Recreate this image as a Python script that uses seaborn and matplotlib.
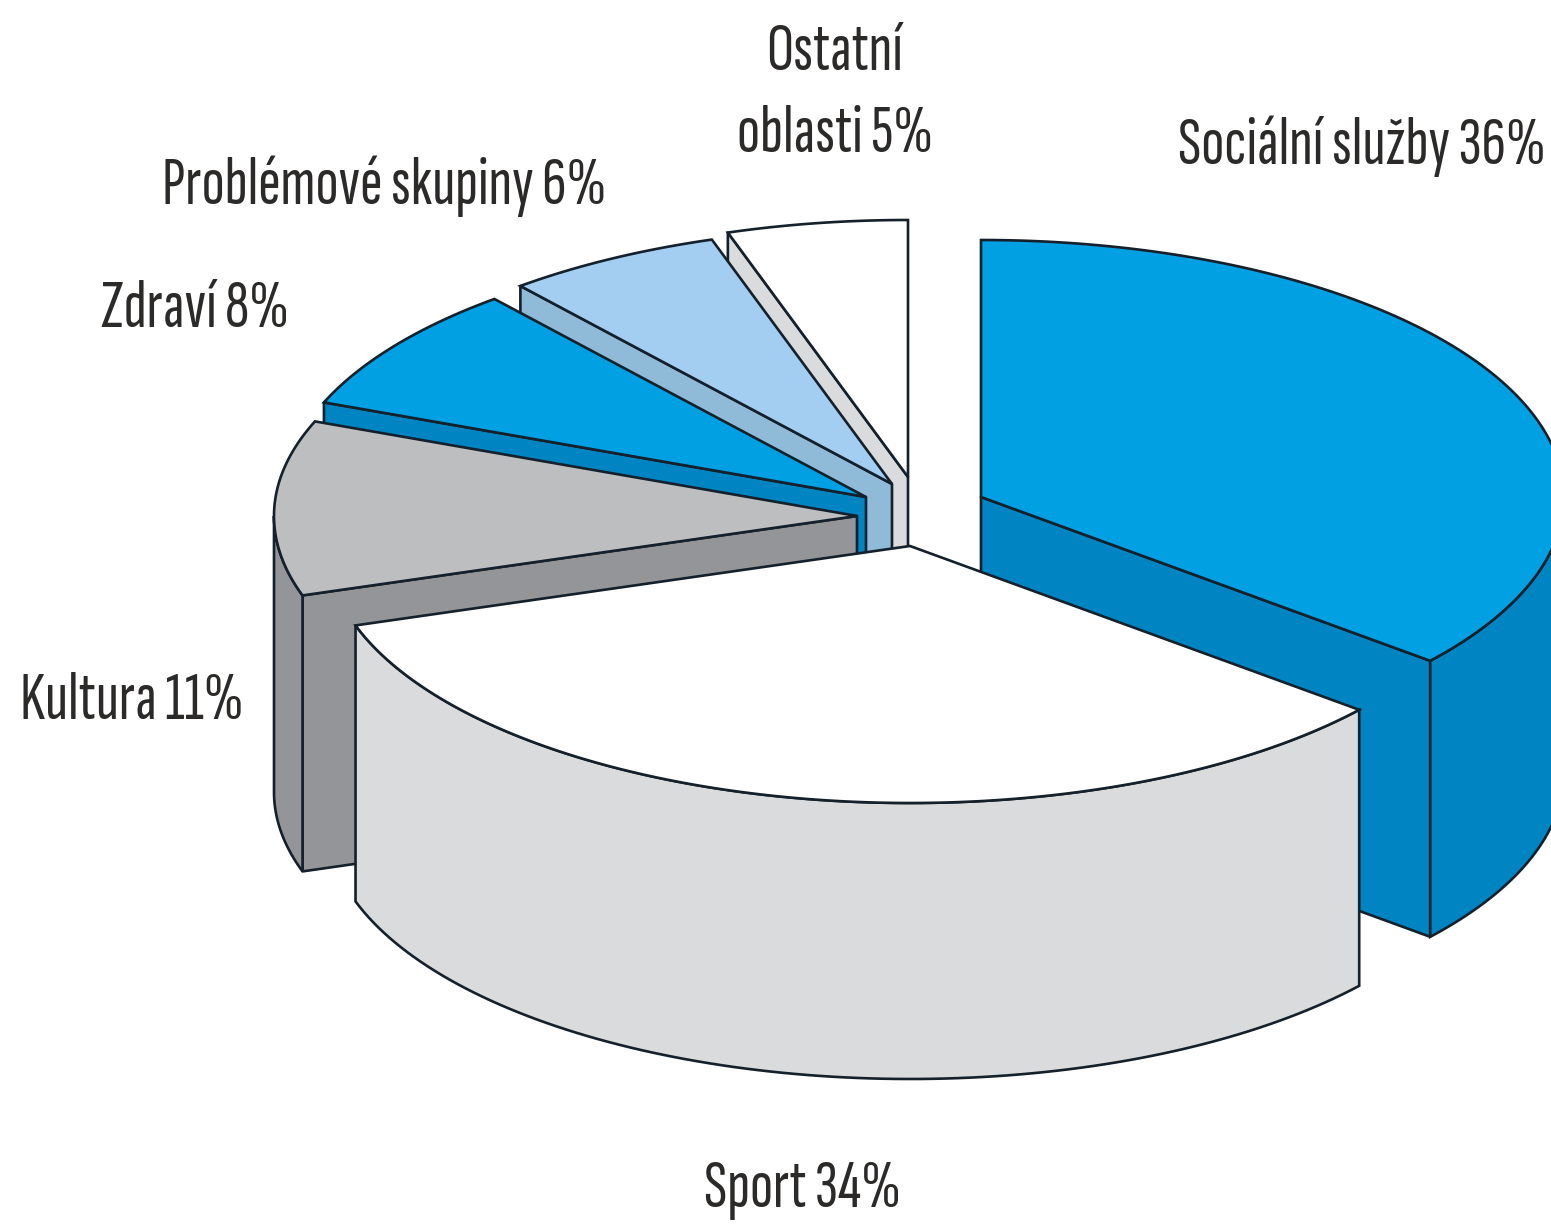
import numpy as np
import seaborn as sns
import matplotlib.pyplot as plt
from matplotlib.patches import Polygon

# shares in %, clockwise from 12 o'clock
labels = ['Sociální služby 36%', 'Sport 34%', 'Kultura 11%', 'Zdraví 8%',
          'Problémové skupiny 6%', 'Ostatní\noblasti 5%']
shares = [36, 34, 11, 8, 6, 5]

top_colors = ['#00a0e3', '#ffffff', '#bcbec0', '#00a0e3', '#a3cef1', '#ffffff']
side_colors = ['#0085c2', '#d9dbdc', '#939598', '#0085c2', '#8fbad8', '#d9dbdc']

# apex of each slice in pixels, the pie is drawn in image coordinates
apex_x = [981, 910, 857, 866, 892, 908]
apex_y = [497, 546, 516, 497, 484, 477]
label_x = [1362, 803, 132, 195, 384, 835]
label_y = [146, 1190, 702, 310, 186, 94]

RX, RY, DEPTH = 583, 257, 276

sns.set_theme(style='white')
plt.rcParams['font.family'] = ['Sofia Sans Extra Condensed', 'Fira Sans Extra Condensed', 'Liberation Sans']

fig = plt.figure(figsize=(15.51, 12.28), dpi=100)
ax = fig.add_axes([0, 0, 1, 1])
ax.set_xlim(0, 1551)
ax.set_ylim(1228, 0)
ax.axis('off')


def rim(t, cx, cy, drop=0):
    return np.column_stack([cx + RX * np.sin(t), cy - RY * np.cos(t) + drop])


def draw_slice(start, end, cx, cy, top, side):
    # radial faces that look towards the viewer, then outer wall, then the top
    for t in (start, end):
        visible = np.sin(t) < -1e-6 if t == start else np.sin(t) > 1e-6
        if visible:
            p = rim(np.array([t]), cx, cy)[0]
            face = [(cx, cy), p, (p[0], p[1] + DEPTH), (cx, cy + DEPTH)]
            ax.add_patch(Polygon(face, fc=side, ec='#14202b', lw=1.9, joinstyle='round'))
    a, b = max(start, np.pi / 2), min(end, 3 * np.pi / 2)
    if a < b:
        t = np.linspace(a, b, 100)
        wall = np.vstack([rim(t, cx, cy), rim(t[::-1], cx, cy, DEPTH)])
        ax.add_patch(Polygon(wall, fc=side, ec='#14202b', lw=1.9))
    t = np.linspace(start, end, 200)
    ax.add_patch(Polygon(np.vstack([[(cx, cy)], rim(t, cx, cy)]), fc=top, ec='#14202b', lw=1.9))


edges = np.cumsum([0] + shares) / sum(shares) * 2 * np.pi
# painter's order, back slices first
for i in [5, 4, 3, 2, 0, 1]:
    draw_slice(edges[i], edges[i + 1], apex_x[i], apex_y[i], top_colors[i], side_colors[i])

for name, x, y in zip(labels, label_x, label_y):
    ax.text(x, y, name, ha='center', va='center', fontsize=49, color='#2b2a29', linespacing=1.48)

fig.savefig('out.png', dpi=100)
